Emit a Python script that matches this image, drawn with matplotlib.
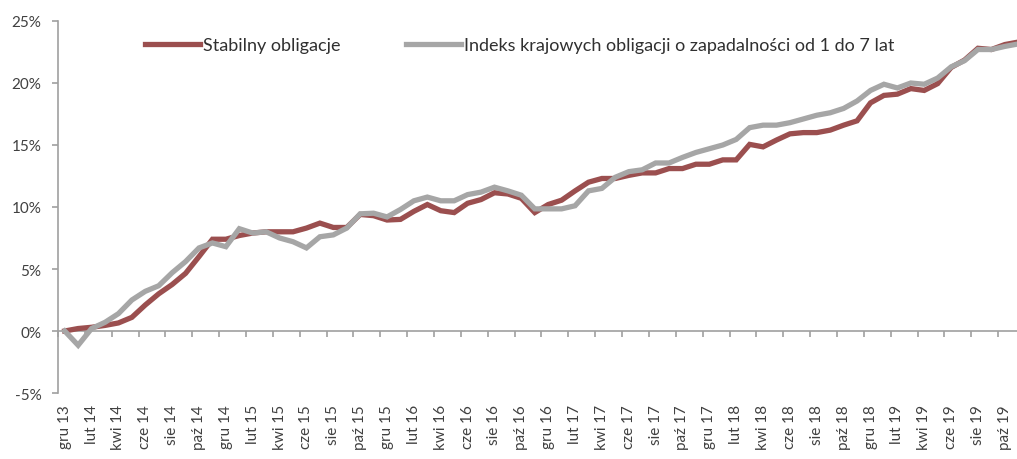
import matplotlib
matplotlib.use("Agg")
import matplotlib.pyplot as plt
import matplotlib.transforms as mtransforms
from matplotlib.ticker import FixedLocator, FuncFormatter


# Data (monthly, Dec 2013 - Nov 2019), cumulative return in %

MONTHS = ["sty", "lut", "mar", "kwi", "maj", "cze",
          "lip", "sie", "wrz", "paź", "lis", "gru"]

months_idx = [(11 + k) % 12 for k in range(72)]
years = [13 + (11 + k) // 12 for k in range(72)]
categories = [f"{MONTHS[m]} {y}" for m, y in zip(months_idx, years)]

stabilny = [
    0.0, 0.2, 0.3, 0.45, 0.65, 1.1, 2.1, 3.0, 3.75, 4.65,
    6.0, 7.4, 7.4, 7.7, 7.9, 8.0, 8.0, 8.0, 8.3, 8.7,
    8.35, 8.35, 9.4, 9.3, 8.95, 9.0, 9.65, 10.2, 9.7, 9.55,
    10.3, 10.6, 11.15, 11.05, 10.7, 9.55, 10.2, 10.55, 11.3, 12.0,
    12.3, 12.3, 12.55, 12.75, 12.75, 13.1, 13.1, 13.45, 13.45, 13.8,
    13.8, 15.05, 14.85, 15.4, 15.9, 16.0, 16.0, 16.2, 16.6, 16.95,
    18.4, 19.0, 19.1, 19.55, 19.4, 19.95, 21.25, 21.85, 22.8, 22.7,
    23.1, 23.3,
]

indeks = [
    0.0, -1.15, 0.2, 0.7, 1.4, 2.5, 3.2, 3.65, 4.7, 5.6,
    6.7, 7.1, 6.8, 8.25, 7.9, 8.0, 7.5, 7.2, 6.7, 7.6,
    7.75, 8.3, 9.45, 9.5, 9.2, 9.8, 10.5, 10.8, 10.5, 10.5,
    11.0, 11.2, 11.6, 11.3, 10.95, 9.85, 9.85, 9.85, 10.1, 11.3,
    11.5, 12.4, 12.85, 13.0, 13.55, 13.55, 14.0, 14.4, 14.7, 15.0,
    15.45, 16.4, 16.6, 16.6, 16.8, 17.1, 17.4, 17.6, 17.95, 18.55,
    19.4, 19.9, 19.6, 20.0, 19.9, 20.4, 21.3, 21.8, 22.7, 22.7,
    22.95, 23.15,
]

series_names = ["Stabilny obligacje",
                "Indeks krajowych obligacji o zapadalności od 1 do 7 lat"]

RED = "#9b4f4f"
GRAY = "#a6a6a6"
AXIS = "#a0a0a0"
TEXT = "#404040"
FONT = "Lato"


def main():
    plt.rcParams["font.family"] = [FONT, "DejaVu Sans"]

    fig = plt.figure(figsize=(10.17, 4.6), dpi=100)
    n = len(categories)
    # plot area: left at x=58px, right beyond the image edge
    left = 58 / 1017
    width = (n * 13.43) / 1017
    bottom = 1 - 394 / 460
    top = 1 - 22 / 460
    ax = fig.add_axes([left, bottom, width, top - bottom])

    x = list(range(n))
    ax.plot(x, stabilny, color=RED, lw=3.8, solid_joinstyle="miter",
            label=series_names[0], zorder=3)
    ax.plot(x, indeks, color=GRAY, lw=3.8, solid_joinstyle="miter",
            label=series_names[1], zorder=4)

    ax.set_xlim(-0.5, n - 0.5)
    ax.set_ylim(-5, 25)

    # spines
    for s in ["top", "right"]:
        ax.spines[s].set_visible(False)
    ax.spines["left"].set_color(AXIS)
    ax.spines["left"].set_linewidth(1.2)
    ax.spines["bottom"].set_position(("data", 0))
    ax.spines["bottom"].set_color(AXIS)
    ax.spines["bottom"].set_linewidth(1.2)

    # y axis
    ax.set_yticks(range(-5, 26, 5))
    ax.yaxis.set_major_formatter(FuncFormatter(lambda v, p: f"{v:.0f}%"))
    ax.tick_params(axis="y", length=4, width=1.2, color=AXIS, pad=8,
                   labelsize=11, labelcolor=TEXT)

    # x axis: tick marks between every two categories, labels at the bottom
    ax.xaxis.set_major_locator(FixedLocator([k - 0.5 for k in range(0, n, 2)]))
    ax.tick_params(axis="x", length=4, width=1.2, color=AXIS,
                   labelbottom=False)

    trans = mtransforms.blended_transform_factory(ax.transData, ax.transAxes)
    offset = mtransforms.ScaledTranslation(0, -8 / 72, fig.dpi_scale_trans)
    for i in range(0, n - 1, 2):
        ax.text(i, 0, categories[i], transform=trans + offset,
                rotation=90, ha="center", va="top", fontsize=11,
                color=TEXT)

    leg = ax.legend(loc="upper left", bbox_to_anchor=(0.0827, 0.976),
                    ncol=2, frameon=False, fontsize=13, handlelength=3.05,
                    handletextpad=0.17, columnspacing=3.6, borderaxespad=0)
    for t in leg.get_texts():
        t.set_color("#303030")

    fig.savefig("out.png", dpi=100)
    plt.close(fig)


if __name__ == "__main__":
    main()
